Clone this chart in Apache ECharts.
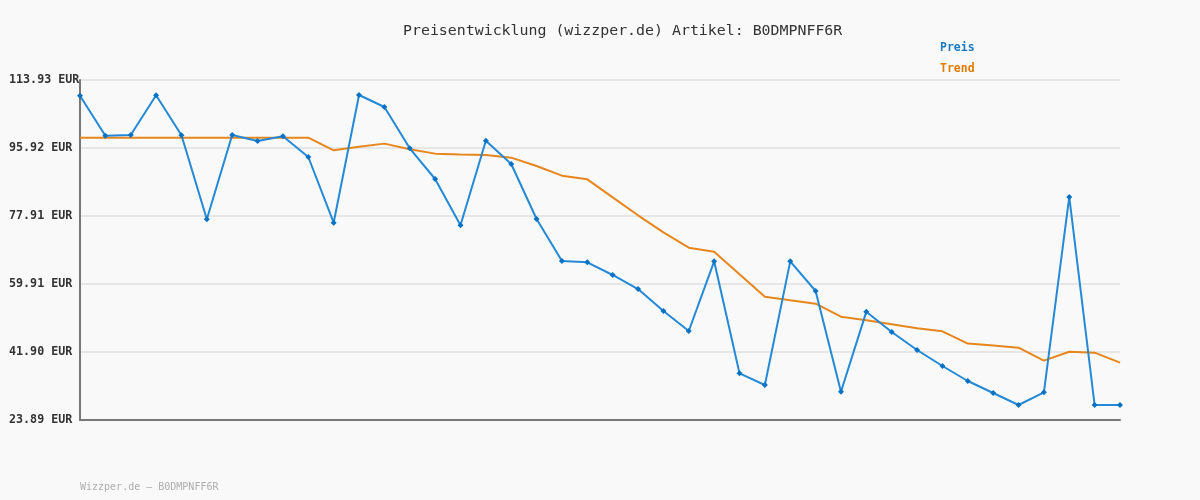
<!DOCTYPE html>
<html>
<head>
<meta charset="utf-8">
<script src="https://cdn.jsdelivr.net/npm/echarts@6/dist/echarts.min.js"></script>
<style>
html,body{margin:0;padding:0;background:#f9f9f9;}
#c{width:1200px;height:500px;}
</style>
</head>
<body>
<div id="c"></div>
<script>
const categories = Array.from({length: 42}, (_, i) => 'P' + (i + 1));
const preis = [109.77, 99.18, 99.37, 109.87, 99.28, 77.04, 99.37, 97.78, 99.02, 93.54,
  76.14, 109.96, 106.78, 95.84, 87.71, 75.45, 97.86, 91.69, 77.12, 66.00,
  65.65, 62.29, 58.58, 52.76, 47.46, 65.91, 36.26, 33.16, 65.91, 58.05,
  31.39, 52.58, 47.20, 42.43, 38.19, 34.22, 31.04, 27.86, 31.22, 82.95,
  27.86, 27.86];
const trend = [98.65, 98.65, 98.65, 98.65, 98.65, 98.65, 98.65, 98.65, 98.65, 98.65,
  95.31, 96.28, 97.08, 95.57, 94.43, 94.17, 94.07, 93.36, 91.16, 88.59,
  87.63, 82.86, 78.10, 73.59, 69.53, 68.47, 62.47, 56.55, 55.58, 54.70,
  51.25, 50.28, 49.22, 48.16, 47.38, 44.12, 43.59, 43.05, 39.60, 41.98,
  41.72, 39.08];
const yTicks = [23.89, 41.90, 59.91, 77.91, 95.92, 113.93];
const titleText = 'Preisentwicklung (wizzper.de) Artikel: B0DMPNFF6R';
const footerText = 'Wizzper.de – B0DMPNFF6R';

const chart = echarts.init(document.getElementById('c'));
chart.setOption({
  backgroundColor: '#f9f9f9',
  animation: false,
  title: {
    text: titleText,
    left: 398,
    top: 19,
    textStyle: {fontFamily: 'DejaVu Sans Mono', fontSize: 14.9, fontWeight: 'normal', color: '#333'}
  },
  legend: {
    orient: 'vertical',
    left: 935,
    top: 42,
    padding: 0,
    itemGap: 9,
    itemWidth: 0,
    itemHeight: 0,
    icon: 'none',
    data: [
      {name: 'Preis', textStyle: {color: '#1b7ac4'}},
      {name: 'Trend', textStyle: {color: '#e07c00'}}
    ],
    textStyle: {fontFamily: 'DejaVu Sans Mono', fontSize: 11.5, fontWeight: 'bold', padding: 0}
  },
  graphic: [{
    type: 'text', left: 80, top: 482,
    style: {text: footerText, fill: '#aeaeae', font: '10px "DejaVu Sans Mono"'}
  }],
  grid: {left: 80, right: 80, top: 80, bottom: 80},
  xAxis: {
    type: 'category',
    data: categories,
    boundaryGap: false,
    axisLine: {lineStyle: {color: '#777', width: 2}},
    axisTick: {show: false},
    axisLabel: {show: false},
    splitLine: {show: false}
  },
  yAxis: {
    type: 'value',
    min: yTicks[0],
    max: yTicks[yTicks.length - 1],
    axisLine: {show: true, lineStyle: {color: '#777', width: 2}},
    axisTick: {show: false, customValues: yTicks},
    axisLabel: {
      customValues: yTicks,
      align: 'left',
      margin: 71,
      color: '#333',
      fontFamily: 'DejaVu Sans Mono',
      fontWeight: 'bold',
      fontSize: 11.7,
      formatter: v => v.toFixed(2) + ' EUR'
    },
    splitLine: {show: true, lineStyle: {color: '#e6e6e6', width: 2}}
  },
  series: [
    {
      name: 'Preis',
      type: 'line',
      data: preis,
      symbol: 'diamond',
      symbolSize: 6,
      showAllSymbol: true,
      lineStyle: {color: '#2489d6', width: 2},
      itemStyle: {color: '#0a72c4'},
      z: 3
    },
    {
      name: 'Trend',
      type: 'line',
      data: trend,
      symbol: 'none',
      lineStyle: {color: '#e6861c', width: 2},
      itemStyle: {color: '#e07c00'},
      z: 2
    }
  ]
});
</script>
</body>
</html>
